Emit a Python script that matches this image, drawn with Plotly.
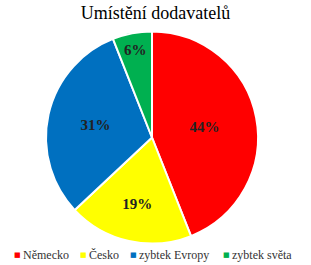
import plotly.graph_objects as go

labels = ["Německo", "Česko", "zybtek Evropy", "zybtek světa"]
values = [44, 19, 31, 6]
colors = ["#FF0000", "#FFFF00", "#0070C0", "#00B050"]

W, H = 311, 265
SERIF = "Liberation Serif, Times New Roman, serif"
fig = go.Figure(go.Pie(
    labels=labels, values=values, sort=False, direction="clockwise", rotation=0,
    marker=dict(colors=colors, line=dict(color="white", width=2)),
    textinfo="percent", textposition="inside", insidetextorientation="horizontal",
    texttemplate="<b>%{percent:.0%}</b>",
    textfont=dict(family=SERIF, size=15, color="#222"),
    domain=dict(x=[46/W, 258/W], y=[1-244/H, 1-31/H]),
    hoverinfo="skip",
))

# legend drawn as annotations in a single row
legend_marker_x = [17, 83, 133, 226]
legend_y = 1 - 255/H
annotations = []
for lab, col, mx in zip(labels, colors, legend_marker_x):
    annotations.append(dict(text="■", x=mx/W, y=legend_y, xref="paper", yref="paper",
                            xanchor="center", yanchor="middle", showarrow=False,
                            font=dict(size=7, color=col, family="DejaVu Sans")))
    annotations.append(dict(text=lab, x=(mx+4)/W, y=legend_y, xref="paper", yref="paper",
                            xanchor="left", yanchor="middle", showarrow=False,
                            font=dict(size=12, color="#333", family=SERIF)))

fig.update_layout(
    width=W, height=H, margin=dict(l=0, r=0, t=0, b=0),
    paper_bgcolor="white",
    font=dict(family=SERIF),
    title=dict(text="Umístění dodavatelů", x=0.5, xanchor="center", y=1-13/H, yanchor="middle",
               font=dict(family=SERIF, size=18, color="black")),
    showlegend=False,
    annotations=annotations,
)
fig.write_html("out.html")
